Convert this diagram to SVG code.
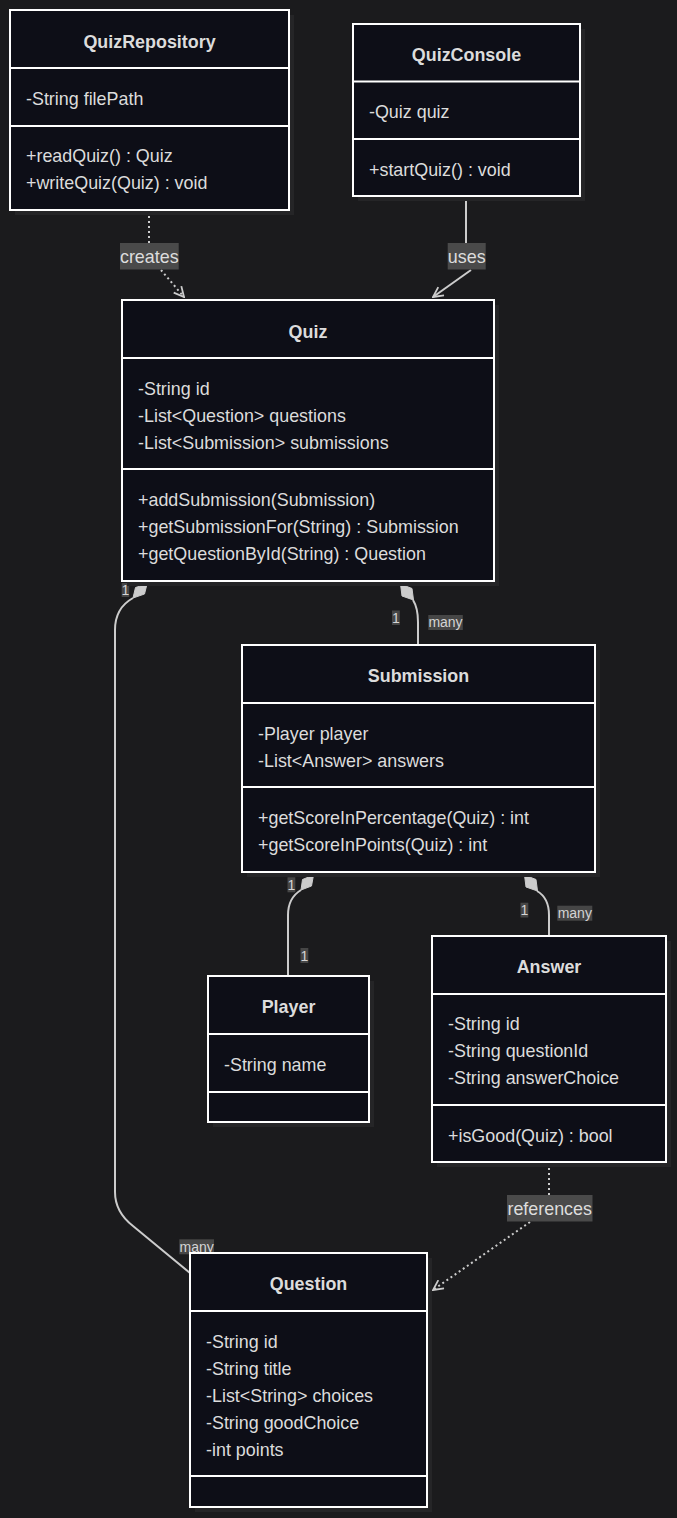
<svg xmlns="http://www.w3.org/2000/svg" width="677" height="1518" viewBox="0 0 677 1518">
<defs>
<style>
.bg{fill:#1b1b1d}
.sh{fill:#252527}
.box{fill:#0d0e17;stroke:#ffffff;stroke-width:2}
.div{stroke:#ffffff;stroke-width:2}
.t{font-family:"Liberation Sans",Arial,sans-serif;font-size:17.9px;fill:#dcdcdc}
.title{font-weight:bold;text-anchor:middle}
.edge{fill:none;stroke:#cccccc;stroke-width:2}
.dot{stroke-dasharray:2 3}
.lblbg{fill:#4a4a4a}
.lbl{font-family:"Liberation Sans",Arial,sans-serif;font-size:17.9px;fill:#dddddd;text-anchor:middle}
.mbg{fill:#464646}
.m{font-family:"Liberation Sans",Arial,sans-serif;font-size:14px;fill:#d4d4d4;text-anchor:middle}
.dia{fill:#cccccc;stroke:#cccccc;stroke-width:1}
</style>
<marker id="open" viewBox="0 0 12 12" refX="11" refY="6" markerWidth="12" markerHeight="12" markerUnits="userSpaceOnUse" orient="auto">
<path d="M1,1 L11,6 L1,11" fill="none" stroke="#cccccc" stroke-width="1.8"/>
</marker>
</defs>
<rect class="bg" x="0" y="0" width="677" height="1518"/>

<g id="connectors">
  <!-- creates -->
  <path class="edge dot" d="M149,211 L149,243"/>
  <path class="edge dot" d="M161,270 L184,297" marker-end="url(#open)"/>
  <!-- uses -->
  <path class="edge" d="M466,197 L466,243"/>
  <path class="edge" d="M471,270 L433,297" marker-end="url(#open)"/>
  <!-- Quiz - Question composition -->
  <polygon class="dia" points="147,584 144.5,594 133,598 135.5,587.5"/>
  <path class="edge" d="M133,598 Q115,608 115,630 L115,1192 Q115,1212 133,1226 L190,1273"/>
  <!-- Quiz - Submission -->
  <polygon class="dia" points="400.5,584 412,588.5 413.5,600 402,596"/>
  <path class="edge" d="M413,600 Q418,608 418,622 L418,645"/>
  <!-- Submission - Player -->
  <polygon class="dia" points="313.5,875 311.5,886 301,890 302.5,879.5"/>
  <path class="edge" d="M301,890 Q288,898 288,915 L288,976"/>
  <!-- Submission - Answer -->
  <polygon class="dia" points="524.5,875 536,879.5 537.5,891 526,887"/>
  <path class="edge" d="M537,891 Q549,898 549,915 L549,936"/>
  <!-- references -->
  <path class="edge dot" d="M549,1163 L549,1195"/>
  <path class="edge dot" d="M530,1222 L433,1290" marker-end="url(#open)"/>

  <!-- labels -->
  <rect class="lblbg" x="120" y="243" width="58.7" height="26.5"/>
  <text class="lbl" x="149.3" y="262.5">creates</text>
  <rect class="lblbg" x="447.7" y="243" width="38" height="26.5"/>
  <text class="lbl" x="466.7" y="262.5">uses</text>
  <rect class="lblbg" x="507" y="1195" width="85.5" height="26.5"/>
  <text class="lbl" x="549.7" y="1214.5">references</text>

  <rect class="mbg" x="121.7" y="583" width="7.5" height="14"/>
  <text class="m" x="125.4" y="595">1</text>
  <rect class="mbg" x="392" y="610.5" width="7.8" height="14.5"/>
  <text class="m" x="395.9" y="622.8">1</text>
  <rect class="mbg" x="428.3" y="615" width="34.5" height="15"/>
  <text class="m" x="445.5" y="627.3">many</text>
  <rect class="mbg" x="287.5" y="877.3" width="7.8" height="15"/>
  <text class="m" x="291.4" y="889.8">1</text>
  <rect class="mbg" x="300.5" y="948" width="7.8" height="15"/>
  <text class="m" x="304.4" y="960.5">1</text>
  <rect class="mbg" x="520.5" y="902.7" width="7.8" height="14.8"/>
  <text class="m" x="524.4" y="915">1</text>
  <rect class="mbg" x="557.3" y="905.7" width="35" height="15"/>
  <text class="m" x="574.8" y="918">many</text>
  <rect class="mbg" x="179.3" y="1239.3" width="34.7" height="15"/>
  <text class="m" x="196.7" y="1251.6">many</text>
</g>

<g id="QuizRepository">
  <rect class="sh" x="15" y="15" width="279" height="200"/>
  <rect class="box" x="10" y="10" width="279" height="200"/>
  <line class="div" x1="10" y1="68" x2="289" y2="68"/>
  <line class="div" x1="10" y1="126" x2="289" y2="126"/>
  <text class="t title" x="149.5" y="48">QuizRepository</text>
  <text class="t" x="26" y="105">-String filePath</text>
  <text class="t" x="26" y="162">+readQuiz() : Quiz</text>
  <text class="t" x="26" y="189">+writeQuiz(Quiz) : void</text>
</g>

<g id="QuizConsole">
  <rect class="sh" x="358" y="29" width="227" height="172"/>
  <rect class="box" x="353" y="24" width="227" height="172"/>
  <line class="div" x1="353" y1="81.5" x2="580" y2="81.5"/>
  <line class="div" x1="353" y1="139" x2="580" y2="139"/>
  <text class="t title" x="466.5" y="61">QuizConsole</text>
  <text class="t" x="369" y="118">-Quiz quiz</text>
  <text class="t" x="369" y="176">+startQuiz() : void</text>
</g>

<g id="Quiz">
  <rect class="sh" x="127" y="305" width="372" height="281"/>
  <rect class="box" x="122" y="300" width="372" height="281"/>
  <line class="div" x1="122" y1="358" x2="494" y2="358"/>
  <line class="div" x1="122" y1="469" x2="494" y2="469"/>
  <text class="t title" x="308" y="338">Quiz</text>
  <text class="t" x="138" y="395">-String id</text>
  <text class="t" x="138" y="422">-List&lt;Question&gt; questions</text>
  <text class="t" x="138" y="449">-List&lt;Submission&gt; submissions</text>
  <text class="t" x="138" y="506">+addSubmission(Submission)</text>
  <text class="t" x="138" y="533">+getSubmissionFor(String) : Submission</text>
  <text class="t" x="138" y="560">+getQuestionById(String) : Question</text>
</g>

<g id="Submission">
  <rect class="sh" x="247" y="650" width="353" height="227"/>
  <rect class="box" x="242" y="645" width="353" height="227"/>
  <line class="div" x1="242" y1="703" x2="595" y2="703"/>
  <line class="div" x1="242" y1="787" x2="595" y2="787"/>
  <text class="t title" x="418.5" y="682">Submission</text>
  <text class="t" x="258" y="740">-Player player</text>
  <text class="t" x="258" y="767">-List&lt;Answer&gt; answers</text>
  <text class="t" x="258" y="824">+getScoreInPercentage(Quiz) : int</text>
  <text class="t" x="258" y="851">+getScoreInPoints(Quiz) : int</text>
</g>

<g id="Player">
  <rect class="sh" x="213" y="981" width="161" height="146"/>
  <rect class="box" x="208" y="976" width="161" height="146"/>
  <line class="div" x1="208" y1="1034" x2="369" y2="1034"/>
  <line class="div" x1="208" y1="1092" x2="369" y2="1092"/>
  <text class="t title" x="288.5" y="1013">Player</text>
  <text class="t" x="224" y="1071">-String name</text>
</g>

<g id="Answer">
  <rect class="sh" x="437" y="941" width="234" height="226"/>
  <rect class="box" x="432" y="936" width="234" height="226"/>
  <line class="div" x1="432" y1="994" x2="666" y2="994"/>
  <line class="div" x1="432" y1="1105" x2="666" y2="1105"/>
  <text class="t title" x="549" y="973">Answer</text>
  <text class="t" x="448" y="1030">-String id</text>
  <text class="t" x="448" y="1057">-String questionId</text>
  <text class="t" x="448" y="1084">-String answerChoice</text>
  <text class="t" x="448" y="1142">+isGood(Quiz) : bool</text>
</g>

<g id="Question">
  <rect class="sh" x="195" y="1258" width="237" height="254"/>
  <rect class="box" x="190" y="1253" width="237" height="254"/>
  <line class="div" x1="190" y1="1311" x2="427" y2="1311"/>
  <line class="div" x1="190" y1="1476" x2="427" y2="1476"/>
  <text class="t title" x="308.5" y="1290">Question</text>
  <text class="t" x="206" y="1348">-String id</text>
  <text class="t" x="206" y="1375">-String title</text>
  <text class="t" x="206" y="1402">-List&lt;String&gt; choices</text>
  <text class="t" x="206" y="1429">-String goodChoice</text>
  <text class="t" x="206" y="1456">-int points</text>
</g>
</svg>
